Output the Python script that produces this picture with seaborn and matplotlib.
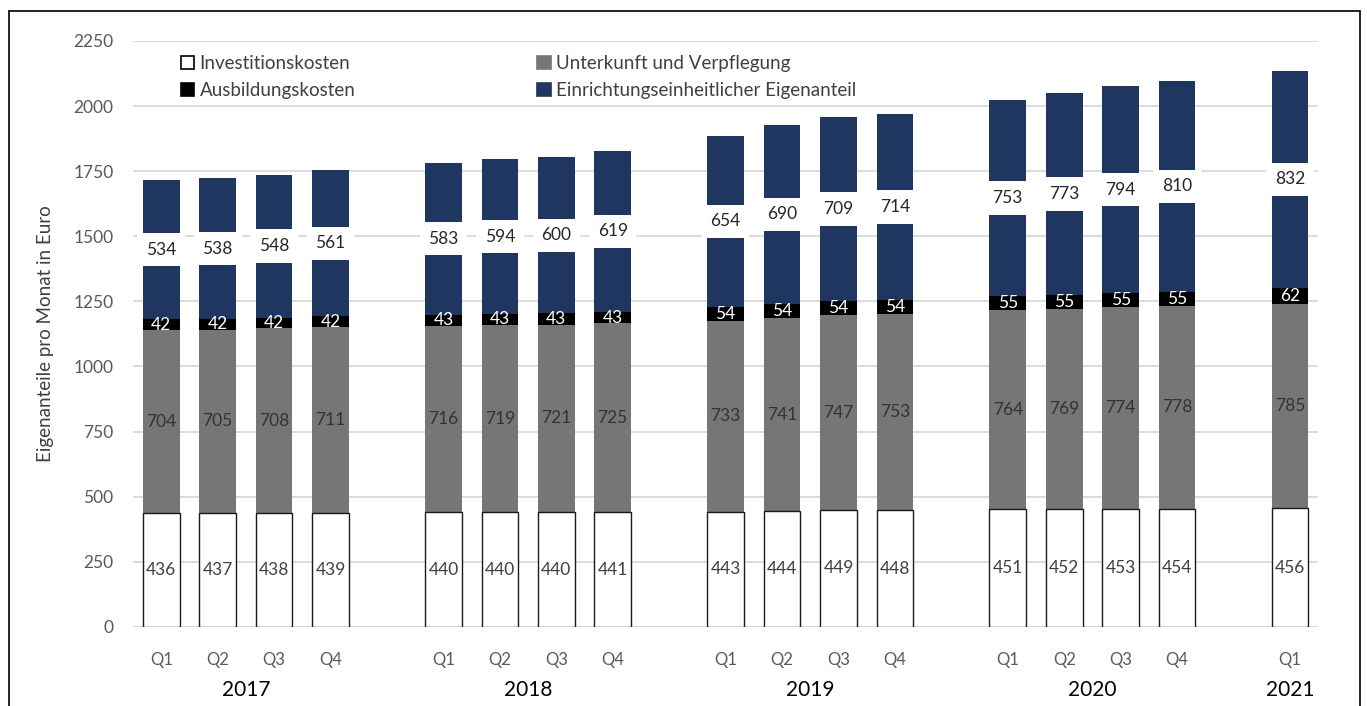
import matplotlib
matplotlib.use("Agg")
import matplotlib.pyplot as plt
import matplotlib.patches as mpatches
from matplotlib.lines import Line2D
import numpy as np
import pandas as pd
import seaborn as sns

# data (Euro per month)
years = ["2017", "2018", "2019", "2020", "2021"]
quarters = ["Q1", "Q2", "Q3", "Q4", "Q1", "Q2", "Q3", "Q4", "Q1", "Q2", "Q3", "Q4",
            "Q1", "Q2", "Q3", "Q4", "Q1"]
year_of_bar = ["2017"] * 4 + ["2018"] * 4 + ["2019"] * 4 + ["2020"] * 4 + ["2021"]
investition = [436, 437, 438, 439, 440, 440, 440, 441, 443, 444, 449, 448,
               451, 452, 453, 454, 456]
unterkunft = [704, 705, 708, 711, 716, 719, 721, 725, 733, 741, 747, 753,
              764, 769, 774, 778, 785]
ausbildung = [42, 42, 42, 42, 43, 43, 43, 43, 54, 54, 54, 54,
              55, 55, 55, 55, 62]
eigenanteil = [534, 538, 548, 561, 583, 594, 600, 619, 654, 690, 709, 714,
               753, 773, 794, 810, 832]

series_names = ["Investitionskosten", "Unterkunft und Verpflegung",
                "Ausbildungskosten", "Einrichtungseinheitlicher Eigenanteil"]
colors = ["#FFFFFF", "#767676", "#000000", "#1F3660"]

sns.set_theme(style="white")
plt.rcParams["font.family"] = ["Lato", "DejaVu Sans"]

# one empty slot between the years
pos = []
for i, y in enumerate(year_of_bar):
    yi = years.index(y)
    pos.append(yi * 5 + (i - year_of_bar.index(y)))
pos = np.array(pos, dtype=float)

df = pd.DataFrame({
    "pos": pos,
    "inv": investition,
    "uv": unterkunft,
    "aus": ausbildung,
    "eee": eigenanteil,
})
df["c1"] = df["inv"]
df["c2"] = df["c1"] + df["uv"]
df["c3"] = df["c2"] + df["aus"]
df["c4"] = df["c3"] + df["eee"]

fig = plt.figure(figsize=(13.67, 7.06), dpi=100)
ax = fig.add_axes([0.0973, 0.112, 0.867, 0.830])

# stacked bars drawn as overlapping cumulative totals, tallest first
layers = [("c4", colors[3], "none"), ("c3", colors[2], "none"),
          ("c2", colors[1], "none"), ("c1", colors[0], "#1A1A1A")]
for col, c, ec in layers:
    sns.barplot(data=df, x="pos", y=col, native_scale=True, orient="x",
                color=c, edgecolor=ec, linewidth=1.0 if ec != "none" else 0,
                width=0.65, saturation=1, errorbar=None, ax=ax, zorder=2)

ax.set_xlim(-0.5, 20.5)
ax.set_ylim(0, 2250)
ax.set_yticks(np.arange(0, 2251, 250))
ax.yaxis.grid(True, color="#D9D9D9", linewidth=1.3, zorder=0)
ax.set_axisbelow(True)
for s in ax.spines.values():
    s.set_visible(False)
ax.axhline(0, color="#D9D9D9", linewidth=1.5, zorder=1)
ax.tick_params(axis="y", length=0, pad=14, labelsize=12.5, labelcolor="#595959")
ax.tick_params(axis="x", length=0, pad=18, labelsize=12, labelcolor="#595959")
ax.set_xticks(pos)
ax.set_xticklabels(quarters)
ax.set_xlabel("")
ax.set_ylabel("Eigenanteile pro Monat in Euro", fontsize=13.5, color="#404040", labelpad=14)

# year labels under each group
for y in years:
    p = pos[[i for i, yy in enumerate(year_of_bar) if yy == y]]
    ax.text(p.mean(), -0.108, y, transform=ax.get_xaxis_transform(),
            ha="center", va="center", fontsize=15, color="#000000")

# value labels
for _, r in df.iterrows():
    ax.text(r.pos, r.inv / 2, f"{int(r.inv)}", ha="center", va="center",
            fontsize=12.5, color="#404040", zorder=5)
    ax.text(r.pos, r.c1 + r.uv / 2, f"{int(r.uv)}", ha="center", va="center",
            fontsize=12.5, color="#333333", zorder=5)
    ax.text(r.pos, r.c2 + r.aus / 2, f"{int(r.aus)}", ha="center", va="center",
            fontsize=12.5, color="#FFFFFF", zorder=5)
    ax.text(r.pos, r.c3 + r.eee / 2, f"{int(r.eee)}", ha="center", va="center",
            fontsize=12.5, color="#262626", zorder=5,
            bbox=dict(boxstyle="square,pad=0.5", fc="white", ec="none"))

# legend in two columns
handles = [mpatches.Patch(facecolor=c, edgecolor="#000000" if c == "#FFFFFF" else c,
                          linewidth=1.2) for c in colors]
leg_kw = dict(frameon=False, fontsize=13.5, handlelength=0.7, handleheight=0.7,
              handletextpad=0.3, labelspacing=0.55, labelcolor="#404040",
              loc="upper left")
leg1 = ax.legend([handles[0], handles[2]], [series_names[0], series_names[2]],
                 bbox_to_anchor=(0.026, 1.005), **leg_kw)
ax.add_artist(leg1)
ax.legend([handles[1], handles[3]], [series_names[1], series_names[3]],
          bbox_to_anchor=(0.327, 1.005), **leg_kw)

# outer frame of the picture
for xs, ys in [([0.0066, 0.0066], [0.0, 0.984]), ([0.0066, 0.995], [0.984, 0.984]),
               ([0.995, 0.995], [0.984, 0.0])]:
    fig.add_artist(Line2D(xs, ys, transform=fig.transFigure, color="#000000", linewidth=1.2))

fig.savefig("out.png", dpi=100, facecolor="white")
